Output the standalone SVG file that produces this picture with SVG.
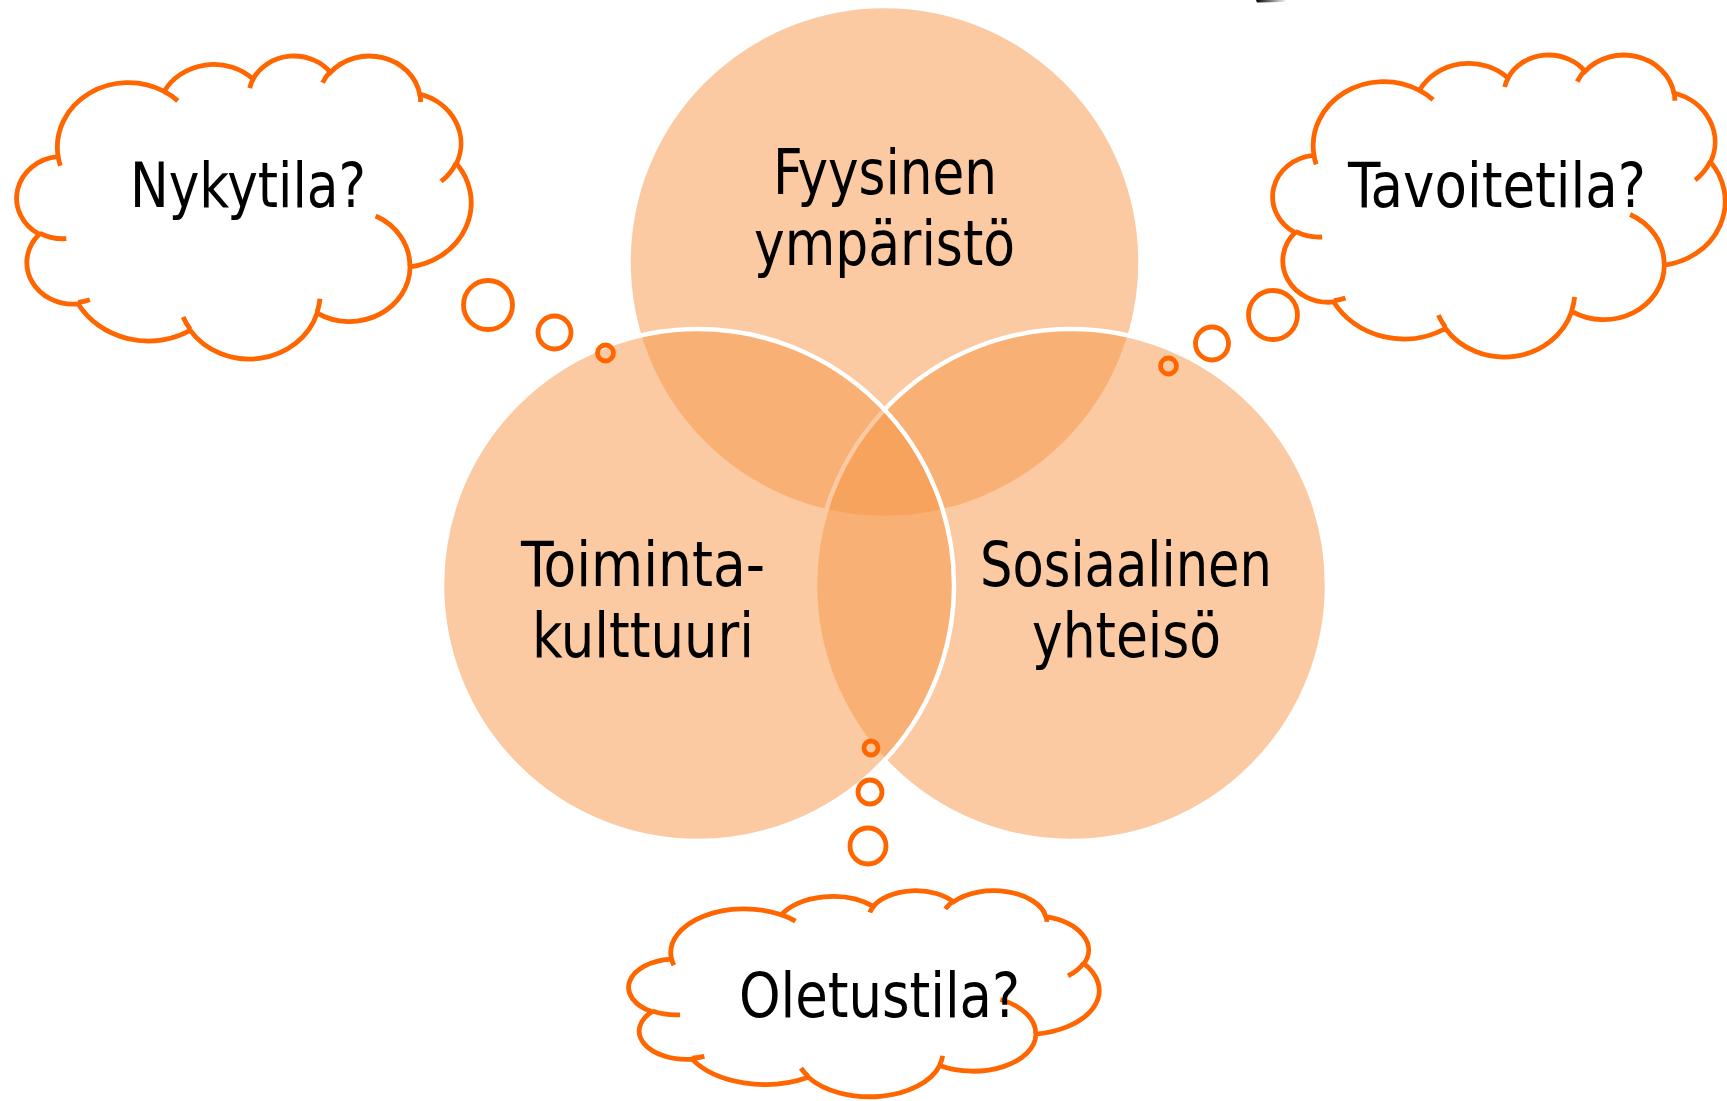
<svg xmlns="http://www.w3.org/2000/svg" xmlns:xlink="http://www.w3.org/1999/xlink" width="1727" height="1101" viewBox="0 0 1727 1101">
<style>
.venn{fill:#F79646;fill-opacity:0.5;stroke:#FFFFFF;stroke-width:4.5}
.cl{fill:none;stroke:#FF6600;stroke-width:4.8}
.ns{vector-effect:non-scaling-stroke}
.bub{fill:none;stroke:#FF6600;stroke-width:4.8}
.t{font-family:"Liberation Sans Narrow","DejaVu Sans Condensed","Liberation Sans",sans-serif;font-size:63px;fill:#000000}
</style>
<defs>
<linearGradient id="g" x1="0" y1="0" x2="1" y2="0">
<stop offset="0" stop-color="#000"/>
<stop offset="1" stop-color="#fff"/>
</linearGradient>
<path id="cloud" class="ns" vector-effect="non-scaling-stroke" d="M3900 14370 A6753 9190 0 0 1 14005 5202 A5333 7267 0 0 1 22456 3432 A4365 5945 0 0 1 29832 2481 A4857 6595 0 0 1 38317 5576 A5333 7273 0 0 1 41818 15459 A6775 9220 0 0 1 37404 30203 A5785 7867 0 0 1 28555 36813 A6752 9215 0 0 1 16480 39264 A7720 10543 0 0 1 5804 35470 A4360 5918 0 0 1 2113 25548 A4345 5945 0 0 1 3863 14504 Z"/>
<path id="crease" class="ns" vector-effect="non-scaling-stroke" d="M4693 26177 A4345 5945 0 0 1 2160 25380 M6928 34899 A4360 5918 0 0 1 5820 35280 M16478 39090 A6752 9215 0 0 1 15810 37350 M28827 34751 A6752 9215 0 0 1 28560 36660 M34129 22954 A5785 7867 0 0 1 37380 30090 M41798 15354 A5333 7273 0 0 1 40350 18030 M38324 5426 A4857 6595 0 0 1 38400 6690 M29078 3952 A4857 6595 0 0 1 29820 2339 M22141 4720 A4365 5945 0 0 1 22500 3330 M14000 5192 A6753 9190 0 0 1 15300 6540 M4127 15789 A6753 9190 0 0 1 3900 14370"/>
</defs>
<rect width="1727" height="1101" fill="#FFFFFF"/>
<path d="M1256 0 L1287 0 L1285 1.8 L1257 2.6 Z" fill="url(#g)"/>
<g id="venn">
<g id="node-fyysinen"><circle class="venn" cx="884.5" cy="262" r="256"/></g>
<g id="node-sosiaalinen"><circle class="venn" cx="1071" cy="585" r="256"/></g>
<g id="node-toiminta"><circle class="venn" cx="698" cy="585" r="256"/></g>
</g>
<g id="connectors">
<circle class="bub" cx="488" cy="305" r="24.5"/>
<circle class="bub" cx="554.5" cy="332.5" r="16.5"/>
<circle class="bub" cx="605.5" cy="353" r="8" stroke-width="4.5"/>
<circle class="bub" cx="1273" cy="315" r="24.5"/>
<circle class="bub" cx="1212" cy="343.5" r="16.5"/>
<circle class="bub" cx="1168.5" cy="366" r="8" stroke-width="4.5"/>
<circle class="bub" cx="871" cy="748" r="7" stroke-width="4.5"/>
<circle class="bub" cx="870" cy="792" r="12"/>
<circle class="bub" cx="868" cy="846" r="18"/>
</g>
<g id="node-nykytila">
<g class="cl" transform="translate(17 55) scale(0.0105093 0.0070139)"><use xlink:href="#cloud"/><use xlink:href="#crease"/></g>
<text class="t" x="130" y="206.7" textLength="236" lengthAdjust="spacingAndGlyphs">Nykytila?</text>
</g>
<g id="node-tavoitetila">
<g class="cl" transform="translate(1273 54) scale(0.0104630 0.0069907)"><use xlink:href="#cloud"/><use xlink:href="#crease"/></g>
<text class="t" x="1348" y="206.7" textLength="298" lengthAdjust="spacingAndGlyphs">Tavoitetila?</text>
</g>
<g id="node-oletustila">
<g class="cl" transform="translate(629 890) scale(0.0108796 0.0047685)"><use xlink:href="#cloud"/><use xlink:href="#crease"/></g>
<text class="t" x="739" y="1016.7" textLength="281" lengthAdjust="spacingAndGlyphs">Oletustila?</text>
</g>
<g id="labels">
<text class="t" x="773" y="194.3" textLength="224" lengthAdjust="spacingAndGlyphs">Fyysinen</text>
<text class="t" x="754" y="265" textLength="261" lengthAdjust="spacingAndGlyphs">ympäristö</text>
<text class="t" x="521" y="586.4" textLength="244" lengthAdjust="spacingAndGlyphs">Toiminta-</text>
<text class="t" x="532" y="656.8" textLength="222" lengthAdjust="spacingAndGlyphs">kulttuuri</text>
<text class="t" x="980" y="586.4" textLength="292" lengthAdjust="spacingAndGlyphs">Sosiaalinen</text>
<text class="t" x="1032" y="656.8" textLength="189" lengthAdjust="spacingAndGlyphs">yhteisö</text>
</g>
</svg>
